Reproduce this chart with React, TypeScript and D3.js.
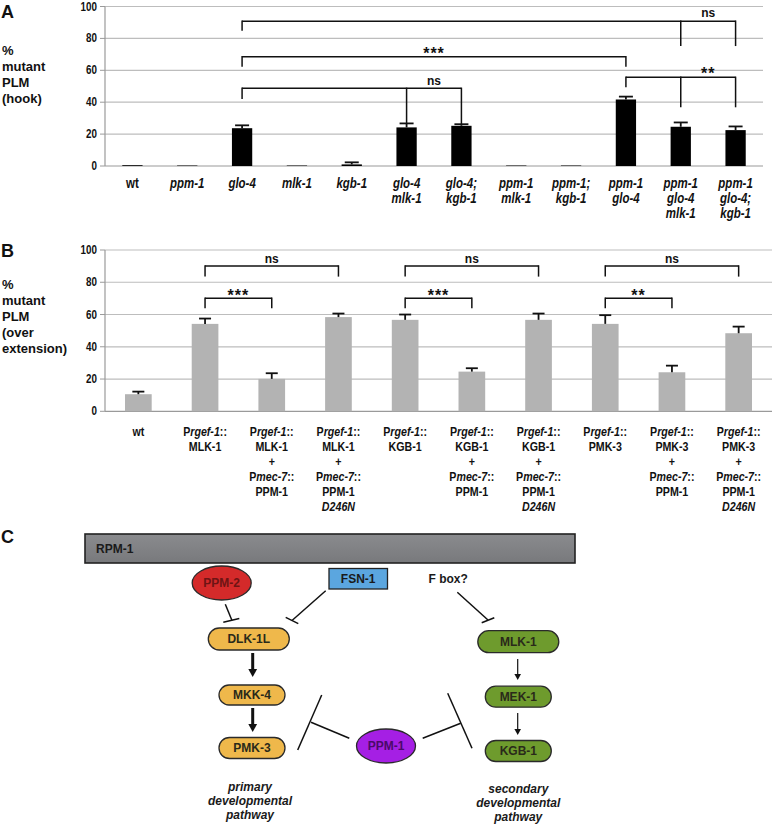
import React from 'react';
import * as d3 from 'd3';

// text between underscores is italic
const hookCats = [
  ['wt'], ['_ppm-1_'], ['_glo-4_'], ['_mlk-1_'], ['_kgb-1_'],
  ['_glo-4_', '_mlk-1_'], ['_glo-4;_', '_kgb-1_'], ['_ppm-1_', '_mlk-1_'],
  ['_ppm-1;_', '_kgb-1_'], ['_ppm-1_', '_glo-4_'],
  ['_ppm-1_', '_glo-4_', '_mlk-1_'], ['_ppm-1_', '_glo-4;_', '_kgb-1_'],
];
const hookValues = [0.5, 0.3, 23.7, 0.3, 1.0, 24.2, 25.2, 0.3, 0.3, 41.7, 24.6, 22.5];
const hookErrors = [0.2, 0.1, 1.8, 0.1, 1.3, 2.5, 1.0, 0.1, 0.1, 1.8, 2.7, 2.3];
const hookBrackets = [
  { legs: [[2, 84.8], [10, 75.2], [11, 75.2]], level: 90.8, label: 'ns', labelLevel: 95.5 },
  { legs: [[2, 62.2], [9, 62.2]], level: 68.5, label: '***', labelLevel: 73 },
  { legs: [[2, 42], [5, 26.3], [6, 26.3]], level: 48.7, label: 'ns', labelLevel: 53 },
  { legs: [[9, 49.3], [10, 36.8], [11, 36.8]], level: 55.6, label: '**', labelLevel: 60 },
];

const overCats = [
  ['wt'],
  ['P_rgef-1_::', 'MLK-1'],
  ['P_rgef-1_::', 'MLK-1', '+', 'P_mec-7_::', 'PPM-1'],
  ['P_rgef-1_::', 'MLK-1', '+', 'P_mec-7_::', 'PPM-1', '_D246N_'],
  ['P_rgef-1_::', 'KGB-1'],
  ['P_rgef-1_::', 'KGB-1', '+', 'P_mec-7_::', 'PPM-1'],
  ['P_rgef-1_::', 'KGB-1', '+', 'P_mec-7_::', 'PPM-1', '_D246N_'],
  ['P_rgef-1_::', 'PMK-3'],
  ['P_rgef-1_::', 'PMK-3', '+', 'P_mec-7_::', 'PPM-1'],
  ['P_rgef-1_::', 'PMK-3', '+', 'P_mec-7_::', 'PPM-1', '_D246N_'],
];
const overValues = [10.6, 54.2, 20.1, 58.4, 56.7, 24.6, 56.7, 54.2, 24.2, 48.4];
const overErrors = [1.6, 3.3, 3.5, 2.2, 3.3, 2.1, 3.9, 5.4, 4.1, 4.1];
const overBrackets = [
  { legs: [[1, 83.5], [3, 83.5]], level: 90.1, label: 'ns', labelLevel: 94.4 },
  { legs: [[1, 63.9], [2, 63.9]], level: 70.1, label: '***', labelLevel: 74.2 },
  { legs: [[4, 83.5], [6, 83.5]], level: 90.1, label: 'ns', labelLevel: 94.4 },
  { legs: [[4, 63.9], [5, 63.9]], level: 70.1, label: '***', labelLevel: 74.2 },
  { legs: [[7, 83.5], [9, 83.5]], level: 90.1, label: 'ns', labelLevel: 94.4 },
  { legs: [[7, 63.9], [8, 63.9]], level: 70.1, label: '**', labelLevel: 74.2 },
];

const yTicks = [0, 20, 40, 60, 80, 100];
const hookYLabel = ['%', 'mutant', 'PLM', '(hook)'];
const overYLabel = ['%', 'mutant', 'PLM', '(over', 'extension)'];

const SANS = "'Liberation Sans', Arial, Helvetica, sans-serif";

const Segments = ({ s }: { s: string }) => (
  <>
    {s.split('_').map((part, i) =>
      part ? <tspan key={i} fontStyle={i % 2 ? 'italic' : 'normal'}>{part}</tspan> : null
    )}
  </>
);

type Bracket = { legs: number[][]; level: number; label: string; labelLevel: number };

const BarPanel = (p: {
  cats: string[][]; values: number[]; errors: number[]; brackets: Bracket[];
  x0: number; x1: number; yTop: number; yBottom: number; barFrac: number; fill: string;
  capW: number; labelSize: number; labelY: number; ylabel: string[]; ylabelY: number;
  letter: string; letterY: number;
}) => {
  const x = d3.scaleBand<number>().domain(d3.range(p.cats.length)).range([p.x0, p.x1]).padding(0);
  const y = d3.scaleLinear().domain([0, 100]).range([p.yBottom, p.yTop]);
  const cx = (i: number) => (x(i) as number) + x.bandwidth() / 2;
  const bw = x.bandwidth() * p.barFrac;
  return (
    <g fontFamily={SANS} fontWeight="bold">
      <text x={1} y={p.letterY + 6} fontSize={18} fill="#111">{p.letter}</text>
      {p.ylabel.map((l, i) => (
        <text key={i} x={2} y={p.ylabelY + i * 16 + 4.7} fontSize={13} fill="#111">{l}</text>
      ))}
      {yTicks.map(t => (
        <g key={t}>
          {t > 0 && <line x1={p.x0} x2={p.x1} y1={y(t)} y2={y(t)} stroke="#bdbdbd" strokeWidth={1.2} />}
          <line x1={p.x0 - 5} x2={p.x0} y1={y(t)} y2={y(t)} stroke="#9a9a9a" strokeWidth={1} />
          <g transform={`translate(${p.x0 - 8},${y(t) + 4})scale(0.82,1)`}>
            <text textAnchor="end" fontSize={12} fill="#111">{t}</text>
          </g>
        </g>
      ))}
      <line x1={p.x0} x2={p.x0} y1={p.yTop} y2={p.yBottom} stroke="#9a9a9a" strokeWidth={1.2} />
      <line x1={p.x0} x2={p.x1} y1={p.yBottom} y2={p.yBottom} stroke="#9a9a9a" strokeWidth={1.2} />
      {p.values.map((v, i) => (
        <g key={i}>
          <rect x={cx(i) - bw / 2} y={y(v)} width={bw} height={y(0) - y(v)} fill={p.fill} />
          {p.errors[i] > 0.5 && (
            <g stroke="#111" strokeWidth={1.8}>
              <line x1={cx(i)} x2={cx(i)} y1={y(v)} y2={y(v + p.errors[i])} />
              <line x1={cx(i) - p.capW / 2} x2={cx(i) + p.capW / 2} y1={y(v + p.errors[i])} y2={y(v + p.errors[i])} />
            </g>
          )}
        </g>
      ))}
      {p.cats.map((lines, i) =>
        lines.map((l, j) => (
          <g key={`${i}-${j}`} transform={`translate(${cx(i)},${p.labelY + j * 15 + p.labelSize * 0.36})scale(0.82,1)`}>
            <text textAnchor="middle" fontSize={p.labelSize} fill="#111"><Segments s={l} /></text>
          </g>
        ))
      )}
      {p.brackets.map((b, k) => {
        const first = b.legs[0][0];
        const last = b.legs[b.legs.length - 1][0];
        const prev = b.legs[b.legs.length - 2][0];
        const lx = (cx(prev) + cx(last)) / 2;
        const star = b.label.includes('*');
        return (
          <g key={k}>
            <line x1={cx(first)} x2={cx(last)} y1={y(b.level)} y2={y(b.level)} stroke="#111" strokeWidth={1.5} />
            {b.legs.map(([c, bottom], j) => (
              <line key={j} x1={cx(c)} x2={cx(c)} y1={y(b.level) - 0.7} y2={y(bottom)} stroke="#111" strokeWidth={1.5} />
            ))}
            <text x={lx} y={y(b.labelLevel) + (star ? 9 : 3.5)} textAnchor="middle"
              fontSize={star ? 16 : 12} letterSpacing={star ? 1 : 0} fill="#111">{b.label}</text>
          </g>
        );
      })}
    </g>
  );
};

const Pill = ({ cx, cy, w, h, fill, label }: any) => (
  <g>
    <rect x={cx - w / 2} y={cy - h / 2} width={w} height={h} rx={h / 2} fill={fill} stroke="#2a2a2a" strokeWidth={1.3} />
    <text x={cx} y={cy + 4.3} textAnchor="middle" fontSize={12} fill="#2a2a1a">{label}</text>
  </g>
);

const Inhibit = ({ x1, y1, x2, y2, t1, t2 }: any) => (
  <g stroke="#111" strokeWidth={1.5}>
    <line x1={x1} y1={y1} x2={x2} y2={y2} />
    <line x1={t1[0]} y1={t1[1]} x2={t2[0]} y2={t2[1]} />
  </g>
);

const Arrow = ({ x, y1, y2, w, head }: any) => (
  <g fill="#111" stroke="#111">
    <line x1={x} x2={x} y1={y1} y2={y2 - head} strokeWidth={w} />
    <path d={`M${x - head * 0.55},${y2 - head}L${x + head * 0.55},${y2 - head}L${x},${y2}Z`} stroke="none" />
  </g>
);

const Pathway = () => (
  <g fontFamily={SANS} fontWeight="bold">
    <defs>
      <linearGradient id="rpm" x1="0" y1="0" x2="0" y2="1">
        <stop offset="0" stopColor="#8a8b8e" />
        <stop offset="1" stopColor="#78797c" />
      </linearGradient>
    </defs>
    <text x={1} y={543} fontSize={18} fill="#111">C</text>
    <rect x={85} y={534} width={490} height={29} fill="url(#rpm)" stroke="#222" strokeWidth={1.6} />
    <text x={96} y={553} fontSize={12} fill="#1a1a1a">RPM-1</text>

    <ellipse cx={221.7} cy={583} rx={29.5} ry={17} fill="#d42a2a" stroke="#2a2a2a" strokeWidth={1.3} />
    <text x={221.7} y={587.3} textAnchor="middle" fontSize={12} fill="#6e1414">PPM-2</text>
    <rect x={329} y={568.5} width={58.5} height={20.5} fill="#5ba6df" stroke="#222" strokeWidth={1.3} />
    <text x={358.2} y={583} textAnchor="middle" fontSize={12} fill="#1a1a1a">FSN-1</text>
    <text x={428.5} y={582.5} fontSize={12} fill="#1a1a1a">F box?</text>

    <Inhibit x1={225.3} y1={604.3} x2={232} y2={620.5} t1={[223.3, 622.3]} t2={[239.3, 618.5]} />
    <Inhibit x1={325.7} y1={590.7} x2={292} y2={620.5} t1={[285.7, 617.3]} t2={[298.3, 623.7]} />
    <Inhibit x1={457.3} y1={592.3} x2={488} y2={620} t1={[481.7, 622.7]} t2={[494.3, 617.7]} />

    <Pill cx={248.8} cy={639} w={81} h={22} fill="#efb84b" label="DLK-1L" />
    <Arrow x={252.7} y1={653} y2={677} w={3} head={8} />
    <Pill cx={252} cy={695} w={66} h={20} fill="#efb84b" label="MKK-4" />
    <Arrow x={252.7} y1={708} y2={732} w={3} head={8} />
    <Pill cx={252} cy={748} w={66} h={21} fill="#efb84b" label="PMK-3" />

    <Pill cx={518.3} cy={641.7} w={81} h={22} fill="#6e9b2d" label="MLK-1" />
    <Arrow x={517.7} y1={659} y2={680} w={1.2} head={6} />
    <Pill cx={518.3} cy={696.7} w={66} h={21} fill="#6e9b2d" label="MEK-1" />
    <Arrow x={517.7} y1={713} y2={735} w={1.2} head={6} />
    <Pill cx={518.3} cy={751} w={66} h={21} fill="#6e9b2d" label="KGB-1" />

    <ellipse cx={386} cy={746} rx={29.5} ry={17} fill="#a51fe4" stroke="#2a2a2a" strokeWidth={1.3} />
    <text x={386} y={750.3} textAnchor="middle" fontSize={12} fill="#4a0a6a">PPM-1</text>
    <Inhibit x1={349.3} y1={738.3} x2={311} y2={722.3} t1={[321.7, 695]} t2={[297.7, 750]} />
    <Inhibit x1={422.7} y1={738.3} x2={460.7} y2={723.3} t1={[447.7, 693.3]} t2={[472, 748.3]} />

    {['primary', 'developmental', 'pathway'].map((t, i) => (
      <text key={t} x={250} y={791 + i * 14.2} textAnchor="middle" fontSize={12} fontStyle="italic" fill="#1a1a1a">{t}</text>
    ))}
    {['secondary', 'developmental', 'pathway'].map((t, i) => (
      <text key={t + 's'} x={518.3} y={792.5 + i * 14.2} textAnchor="middle" fontSize={12} fontStyle="italic" fill="#1a1a1a">{t}</text>
    ))}
  </g>
);

export default function App() {
  return (
    <svg width={774} height={825} style={{ position: 'absolute', left: 0, top: 0, background: '#fff' }}>
      <BarPanel cats={hookCats} values={hookValues} errors={hookErrors} brackets={hookBrackets}
        x0={105} x1={763} yTop={6.5} yBottom={166} barFrac={0.37} fill="#000" capW={14}
        labelSize={14} labelY={183} ylabel={hookYLabel} ylabelY={50.5} letter="A" letterY={12} />
      <BarPanel cats={overCats} values={overValues} errors={overErrors} brackets={overBrackets}
        x0={105} x1={772} yTop={250} yBottom={411.3} barFrac={0.4} fill="#b3b3b3" capW={12}
        labelSize={13} labelY={431} ylabel={overYLabel} ylabelY={284} letter="B" letterY={251} />
      <Pathway />
    </svg>
  );
}
